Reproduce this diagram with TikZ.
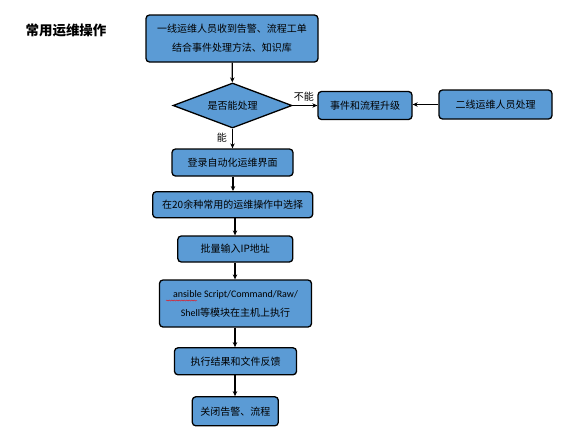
\documentclass[tikz,border=0pt]{standalone}
\usepackage{fontspec}
\setmainfont{Carlito}
\newfontfamily\cjk{Noto Sans CJK SC}
\usetikzlibrary{shapes.geometric,arrows.meta,decorations.pathmorphing}
\definecolor{boxblue}{RGB}{91,155,213}
\tikzset{
  flowbox/.style={draw=black, line width=1.3pt, fill=boxblue, rounded corners=3.5pt, inner sep=0pt, align=center, font=\cjk\fontsize{10}{19}\selectfont},
  decide/.style={draw=black, line width=1.3pt, fill=boxblue, diamond, aspect=2.6, inner sep=0pt, font=\cjk\fontsize{10}{12}\selectfont},
  flowarrow/.style={draw=black, line width=1.2pt, -{Stealth[length=5pt,width=4.5pt]}},
  lbl/.style={font=\cjk\fontsize{10}{12}\selectfont, inner sep=0pt}
}
\begin{document}
\begin{tikzpicture}[x=1pt,y=-1pt]
\useasboundingbox (0,0) rectangle (579,437);
\node[font=\cjk\bfseries\fontsize{13.5}{16}\selectfont, inner sep=0pt] (title) at (66,30) {常用运维操作};
\node[flowbox, minimum width=172pt, minimum height=47pt] (n1) at (232,38.5) {一线运维人员收到告警、流程工单\\结合事件处理方法、知识库};
\node[decide, minimum width=119pt, minimum height=45pt] (d) at (232.5,105.5) {是否能处理};
\node[flowbox, minimum width=94pt, minimum height=28pt] (esc) at (365,105.5) {事件和流程升级};
\node[flowbox, minimum width=113pt, minimum height=29pt] (l2) at (495.5,104.5) {二线运维人员处理};
\node[flowbox, minimum width=121pt, minimum height=27pt] (n3) at (232.5,162.5) {登录自动化运维界面};
\node[flowbox, minimum width=160pt, minimum height=26pt] (n4) at (232.7,204.7) {在20余种常用的运维操作中选择};
\node[flowbox, minimum width=115pt, minimum height=26pt] (n5) at (235.3,249) {批量输入IP地址};
\node[flowbox, minimum width=152pt, minimum height=47pt] (n6) at (235.5,303.5) {{\fontspec{Carlito}ansible Script/Command/Raw/}\\{\fontspec{Carlito}Shell}等模块在主机上执行};
\node[flowbox, minimum width=122pt, minimum height=27pt] (n7) at (235.5,361.3) {执行结果和文件反馈};
\node[flowbox, minimum width=86pt, minimum height=29pt] (n8) at (235.3,411.3) {关闭告警、流程};
\coordinate (squigA) at (166,300.5);
\coordinate (squigB) at (197,300.5);
\draw[red, line width=0.4pt, decorate, decoration={snake, amplitude=0.5pt, segment length=2.5pt}] (squigA) -- (squigB);
\draw[flowarrow] (n1) -- (d);
\draw[flowarrow] (d.east) -- (esc.west |- d.east) node[lbl, pos=0.45, above=4pt] {不能};
\draw[flowarrow] (l2.west) -- (esc.east |- l2.west);
\draw[flowarrow] (d.south) -- (n3.north -| d.south) node[lbl, pos=0.45, left=5pt] {能};
\draw[flowarrow] (n3.south -| 233,0) -- (n4.north -| 233,0);
\draw[flowarrow] (n4.south -| 235,0) -- (n5.north -| 235,0);
\draw[flowarrow] (n5.south -| 235,0) -- (n6.north -| 235,0);
\draw[flowarrow] (n6.south -| 235,0) -- (n7.north -| 235,0);
\draw[flowarrow] (n7.south -| 235,0) -- (n8.north -| 235,0);
\end{tikzpicture}
\end{document}
